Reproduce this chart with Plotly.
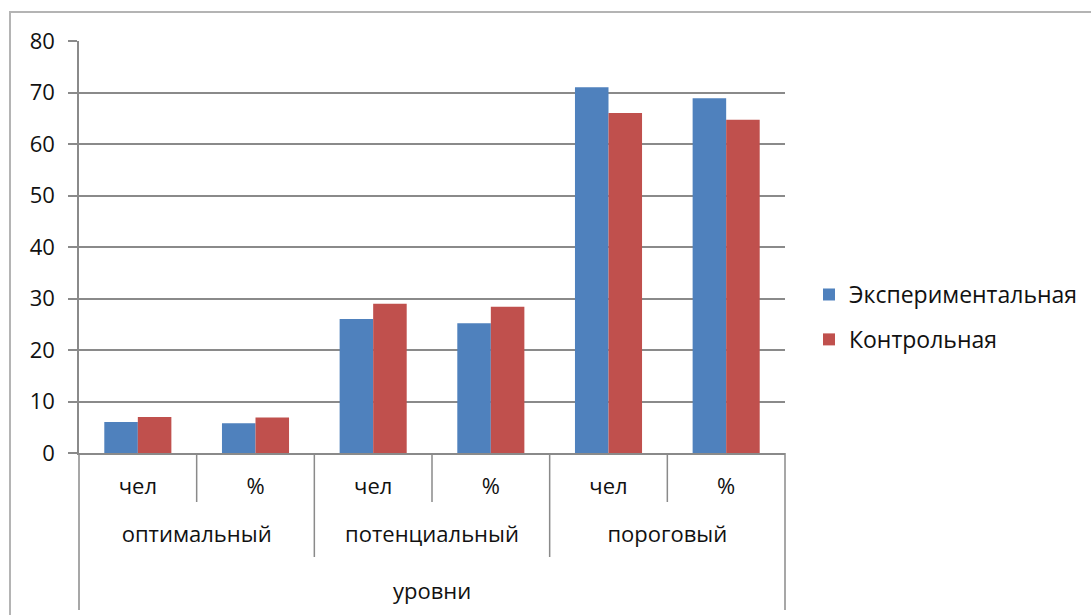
import plotly.graph_objects as go

levels = ["оптимальный", "оптимальный", "потенциальный", "потенциальный", "пороговый", "пороговый"]
units = ["чел", "%", "чел", "%", "чел", "%"]
experimental = [6, 5.8, 26, 25.2, 71, 68.9]
control = [7, 6.9, 29, 28.4, 66, 64.7]
series_names = ["Экспериментальная", "Контрольная"]
colors = ["#4F81BD", "#C0504D"]
y_ticks = [0, 10, 20, 30, 40, 50, 60, 70, 80]
axis_title = "уровни"

FONT = "Open Sans"
GRID = "#8a8a8a"
TXT = "#111111"
FS = 22

# extra blank line under each unit label spaces out the two label rows
unit_labels = [u + "<br> " for u in units]

fig = go.Figure()
for name, vals, col, grp in zip(series_names, [experimental, control], colors, ["a", "b"]):
    fig.add_trace(go.Bar(x=[levels, unit_labels], y=vals, name=name,
                         marker=dict(color=col, line=dict(width=0)), legendgroup=grp))

n = len(units)
shapes = []
for i in range(1, n):
    outer = levels[i] != levels[i - 1]
    shapes.append(dict(type="line", xref="x domain", yref="paper", x0=i / n, x1=i / n,
                       y0=0, y1=(-104 if outer else -49) / 412, line=dict(color=GRID, width=1.5)))
for xe in (0, 1):
    shapes.append(dict(type="line", xref="x domain", yref="paper", x0=xe, x1=xe,
                       y0=0, y1=-157 / 412, line=dict(color=GRID, width=1.5)))
shapes.append(dict(type="rect", xref="paper", yref="paper", x0=-69 / 706, x1=1100 / 706,
                   y0=-200 / 412, y1=(453 - 12) / 412, line=dict(color="#b4b4b4", width=2)))

fig.update_layout(
    width=1091, height=615,
    margin=dict(l=79, r=306, t=41, b=162, autoexpand=False),
    paper_bgcolor="white", plot_bgcolor="white",
    barmode="group", bargap=0.43, bargroupgap=0,
    font=dict(family=FONT, size=FS, color=TXT),
    showlegend=True,
    legend=dict(x=1.034, xanchor="left", y=0.33, yanchor="middle", traceorder="grouped",
                tracegroupgap=12, font=dict(size=FS + 1, color=TXT), itemwidth=30),
    shapes=shapes,
    annotations=[dict(text=axis_title, xref="x domain", yref="paper", x=0.5, y=-137 / 412,
                      showarrow=False, font=dict(size=FS, color=TXT), yanchor="middle")],
)
fig.update_xaxes(type="multicategory", showline=True, linecolor=GRID, linewidth=1.5,
                 showdividers=False, ticks="outside", ticklen=23, tickcolor="rgba(0,0,0,0)",
                 ticklabelstandoff=13, automargin=False,
                 tickfont=dict(size=FS, color=TXT), showgrid=False)
fig.update_yaxes(range=[0, 80], tickvals=y_ticks, showgrid=True, gridcolor=GRID, gridwidth=1.5,
                 showline=True, linecolor=GRID, linewidth=1.5, ticks="outside", ticklen=9,
                 tickcolor=GRID, tickwidth=1.5, tickfont=dict(size=FS, color=TXT),
                 zeroline=False, ticklabelstandoff=9, automargin=False)

fig.write_html("out.html")
